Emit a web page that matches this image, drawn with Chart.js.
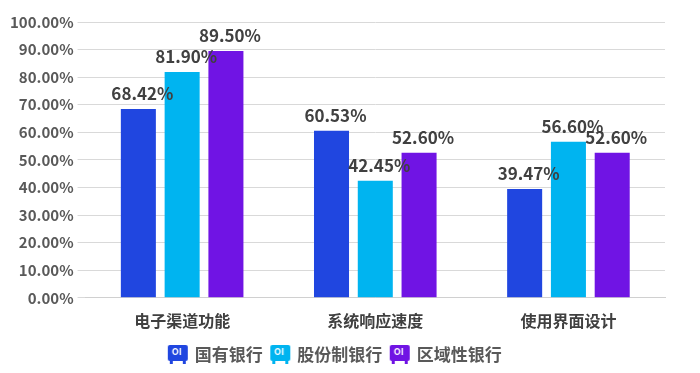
<!DOCTYPE html>
<html lang="zh">
<head>
    <meta charset="UTF-8">
    <title>银行电子渠道评价对比</title>
    <script src="https://cdn.jsdelivr.net/npm/chart.js"></script>
    <style>
        html, body { margin: 0; padding: 0; background: #fff; }
        .container { width: 700px; height: 373px; }
    </style>
</head>
<body>
    <div class="container">
        <canvas id="barChart" width="700" height="373"></canvas>
    </div>

    <script>
        // 类别与系列数据 (单位: %)
        const categories = ['电子渠道功能', '系统响应速度', '使用界面设计'];
        const seriesNames = ['国有银行', '股份制银行', '区域性银行'];
        const stateOwned = [68.42, 60.53, 39.47];
        const jointStock = [81.90, 42.45, 56.60];
        const regional = [89.50, 52.60, 52.60];
        const colors = ['#2046E0', '#00B4F0', '#7014E4'];

        const FONT = "'Noto Sans CJK SC', 'Noto Sans', sans-serif";

        // 图例图标 (小方块带 "OI")
        function makeIcon(color) {
            const c = document.createElement('canvas');
            c.width = 22; c.height = 21;
            const g = c.getContext('2d');
            g.fillStyle = color;
            g.beginPath();
            g.roundRect(1, 1, 20, 16, 2);
            g.fill();
            g.fillRect(3, 16, 3, 4);
            g.fillRect(16, 16, 3, 4);
            g.fillStyle = '#fff';
            g.font = 'bold 9px ' + FONT;
            g.textAlign = 'center';
            g.textBaseline = 'middle';
            g.fillText('OI', 10, 8);
            return c;
        }
        const icons = colors.map(makeIcon);

        // 柱顶数值标签
        const valueLabels = {
            id: 'valueLabels',
            afterDatasetsDraw(chart) {
                const ctx = chart.ctx;
                ctx.save();
                ctx.font = 'bold 17px ' + FONT;
                ctx.fillStyle = '#404040';
                ctx.textAlign = 'center';
                ctx.textBaseline = 'bottom';
                chart.data.datasets.forEach((ds, i) => {
                    chart.getDatasetMeta(i).data.forEach((bar, j) => {
                        ctx.fillText(ds.data[j].toFixed(2) + '%', bar.x + 4, bar.y - 7);
                    });
                });
                ctx.restore();
            }
        };

        new Chart(document.getElementById('barChart'), {
            type: 'bar',
            data: {
                labels: categories,
                datasets: [
                    { label: seriesNames[0], data: stateOwned, backgroundColor: colors[0] },
                    { label: seriesNames[1], data: jointStock, backgroundColor: colors[1] },
                    { label: seriesNames[2], data: regional, backgroundColor: colors[2] }
                ]
            },
            options: {
                responsive: false,
                animation: false,
                layout: { padding: { left: 6, right: 35, top: 22, bottom: 0 } },
                datasets: {
                    bar: { categoryPercentage: 0.68, barPercentage: 0.8 }
                },
                scales: {
                    x: {
                        grid: { display: false },
                        border: { color: '#d0d0d0' },
                        ticks: {
                            color: '#404040',
                            font: { family: FONT, size: 16, weight: 'bold' },
                            padding: 6
                        }
                    },
                    y: {
                        min: 0,
                        max: 100,
                        border: { display: false },
                        grid: { color: '#d9d9d9', tickLength: 8, tickColor: '#d9d9d9' },
                        ticks: {
                            stepSize: 10,
                            color: '#595959',
                            font: { family: FONT, size: 15, weight: 'bold' },
                            padding: 4,
                            callback: v => v.toFixed(2) + '%'
                        }
                    }
                },
                plugins: {
                    tooltip: { enabled: false },
                    legend: {
                        position: 'bottom',
                        labels: {
                            usePointStyle: true,
                            color: '#595959',
                            font: { family: FONT, size: 17, weight: 'bold' },
                            padding: 9,
                            generateLabels(chart) {
                                return chart.data.datasets.map((ds, i) => ({
                                    text: ds.label,
                                    pointStyle: icons[i],
                                    fillStyle: colors[i],
                                    strokeStyle: colors[i],
                                    lineWidth: 0,
                                    fontColor: '#595959',
                                    hidden: false,
                                    datasetIndex: i
                                }));
                            }
                        }
                    }
                }
            },
            plugins: [valueLabels]
        });
    </script>
</body>
</html>
